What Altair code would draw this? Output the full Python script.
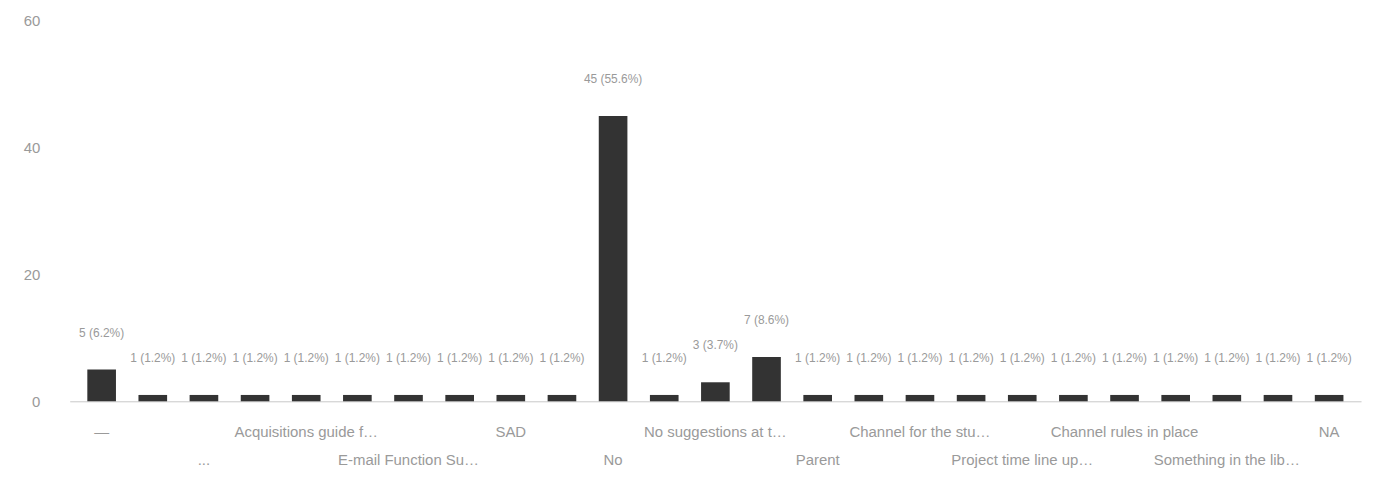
import json
import altair as alt
import pandas as pd

categories = [
    "—", "Access to data", "...", "Better search", "Acquisitions guide for staff",
    "Browse options", "E-mail Function Support", "Faster delivery", "SAD",
    "More e-books", "No", "Help desk", "No suggestions at this time", "Other",
    "Parent", "Print options", "Channel for the students", "Remote access",
    "Project time line updates", "Training", "Channel rules in place",
    "Usability", "Something in the library", "Website", "NA",
]
counts = [5, 1, 1, 1, 1, 1, 1, 1, 1, 1, 45, 1, 3, 7, 1, 1, 1, 1, 1, 1, 1, 1, 1, 1, 1]
row1_labels = ["—", "Acquisitions guide for staff", "SAD", "No suggestions at this time",
               "Channel for the students", "Channel rules in place", "NA"]
row2_labels = ["...", "E-mail Function Support", "No", "Parent",
               "Project time line updates", "Something in the library"]
y_ticks = [0, 20, 40, 60]

total = sum(counts)
df = pd.DataFrame({
    "category": categories,
    "count": counts,
    "label": [f"{c} ({c / total * 100:.1f}%)" for c in counts],
})

text_color = "#9a9a9a"
r1 = json.dumps(row1_labels, ensure_ascii=False)
r2 = json.dumps(row2_labels, ensure_ascii=False)
label_expr = (
    f"indexof({r1}, datum.value) >= 0 ? datum.label : "
    f"(indexof({r2}, datum.value) >= 0 ? ['', datum.label] : '')"
)

base = alt.Chart(df).encode(
    x=alt.X(
        "category:N",
        sort=categories,
        scale=alt.Scale(paddingInner=0.44, paddingOuter=0.344),
        axis=alt.Axis(
            title=None, labelAngle=0, labelExpr=label_expr, labelOverlap=False,
            labelLimit=150, labelFontSize=15, labelColor=text_color,
            labelPadding=23, labelLineHeight=28, labelBaseline="top",
            ticks=False, domainColor="#c8c8c8", domainWidth=1,
        ),
    )
)

bars = base.mark_bar(color="#333333").encode(
    y=alt.Y(
        "count:Q",
        scale=alt.Scale(domain=[0, 60]),
        axis=alt.Axis(
            values=y_ticks, title=None, grid=False, domain=False, ticks=False,
            labelPadding=30, labelFontSize=15, labelColor=text_color,
        ),
    )
)

text = base.mark_text(dy=-30, baseline="bottom", fontSize=12, color=text_color).encode(
    y="count:Q", text="label:N"
)

chart = (
    alt.layer(bars, text)
    .properties(
        width=1297, height=382,
        autosize=alt.AutoSizeParams(type="none"),
        padding={"left": 62, "top": 12, "right": 8, "bottom": 70},
    )
    .configure_view(stroke=None)
)

chart.save("out.html", embed_options={"renderer": "svg", "actions": False})
